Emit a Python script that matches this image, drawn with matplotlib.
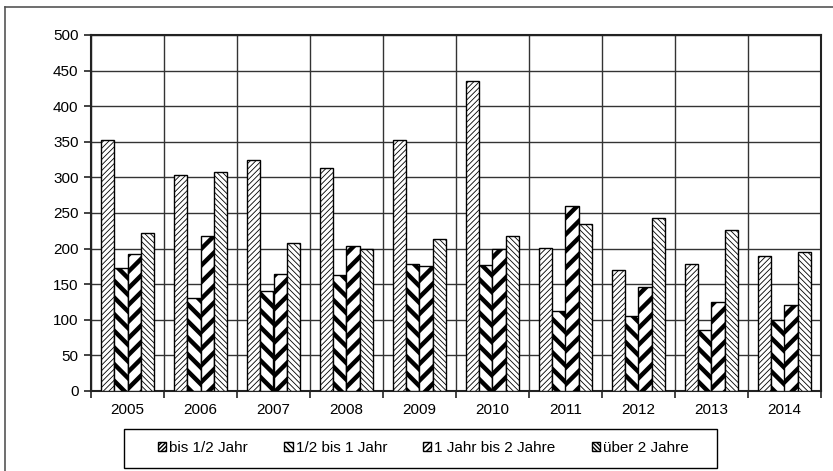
import matplotlib.pyplot as plt
import numpy as np
from matplotlib.lines import Line2D
from matplotlib.patches import Rectangle

plt.rcParams['font.family'] = ['Liberation Sans', 'DejaVu Sans']

# data
years = ['2005', '2006', '2007', '2008', '2009', '2010', '2011', '2012', '2013', '2014']
bis_halb = [352, 303, 324, 313, 353, 436, 201, 170, 179, 189]
halb_bis_1 = [173, 131, 140, 163, 178, 177, 113, 105, 86, 100]
jahr_1_bis_2 = [192, 217, 165, 203, 175, 200, 260, 146, 125, 121]
ueber_2 = [222, 307, 208, 199, 214, 217, 235, 243, 226, 195]
series_names = ['bis 1/2 Jahr', '1/2 bis 1 Jahr', '1 Jahr bis 2 Jahre', 'über 2 Jahre']

series = [bis_halb, halb_bis_1, jahr_1_bis_2, ueber_2]
hatches = ['//////', '\\\\', '//', '\\\\\\\\\\\\']
hatch_lw = [0.6, 3.2, 3.2, 0.6]
# small legend keys need denser patterns to look like the original
key_hatches = ['////////', '\\\\\\\\\\\\', '//////', '\\\\\\\\\\\\\\\\']
key_lw = [0.9, 2.2, 2.2, 0.9]

fig = plt.figure(figsize=(8.33, 4.71), dpi=100)
ax = fig.add_axes([91/833, 80/471, 730/833, 356/471])

x = np.arange(len(years))
w = 0.182
for i, vals in enumerate(series):
    bars = ax.bar(x + (i - 1.5) * w, vals, w, color='white', edgecolor='black',
                  linewidth=1.0, hatch=hatches[i], zorder=3, label=series_names[i])
    for b in bars:
        if hasattr(b, 'set_hatch_linewidth'):
            b.set_hatch_linewidth(hatch_lw[i])

ax.set_xlim(-0.5, len(years) - 0.5)
ax.set_ylim(0, 500)
ax.set_yticks(range(0, 501, 50))
ax.set_xticks(x)
ax.set_xticklabels(years, fontsize=11)
ax.tick_params(axis='x', length=0, pad=9)
ax.set_xticks(np.arange(-0.5, len(years), 1), minor=True)
ax.tick_params(axis='x', which='minor', length=5, width=1.2, color='#222222')
ax.tick_params(axis='y', length=5, width=1.2, color='#222222', labelsize=11, pad=4)

ax.grid(True, axis='y', color='#333333', linewidth=1.0, zorder=0)
ax.grid(True, axis='x', which='minor', color='#333333', linewidth=1.0, zorder=0)
for s in ax.spines.values():
    s.set_linewidth(1.5)
    s.set_color('#222222')

# legend box drawn separately, entries placed inside it
fig.add_artist(Rectangle((124/833, 3/471), 593/833, 39/471, transform=fig.transFigure,
                         facecolor='white', edgecolor='black', linewidth=1.0))
keys = []
for i in range(4):
    p = Rectangle((0, 0), 1, 1, facecolor='white', edgecolor='black', linewidth=1.0,
                  hatch=key_hatches[i])
    if hasattr(p, 'set_hatch_linewidth'):
        p.set_hatch_linewidth(key_lw[i])
    keys.append(p)
leg = fig.legend(handles=keys, labels=series_names, ncol=4,
                 loc='center left', bbox_to_anchor=(158/833, 23/471),
                 fontsize=11, frameon=False,
                 handlelength=0.55, handleheight=0.55, handletextpad=0.2,
                 columnspacing=2.35, borderaxespad=0, borderpad=0)

# outer chart border (top and left visible)
fig.add_artist(Line2D([4.5/833, 1], [1 - 6.5/471, 1 - 6.5/471], color='#555555', linewidth=1.2))
fig.add_artist(Line2D([4.5/833, 4.5/833], [0, 1 - 6.5/471], color='#555555', linewidth=1.2))

fig.savefig('out.png', dpi=100)
